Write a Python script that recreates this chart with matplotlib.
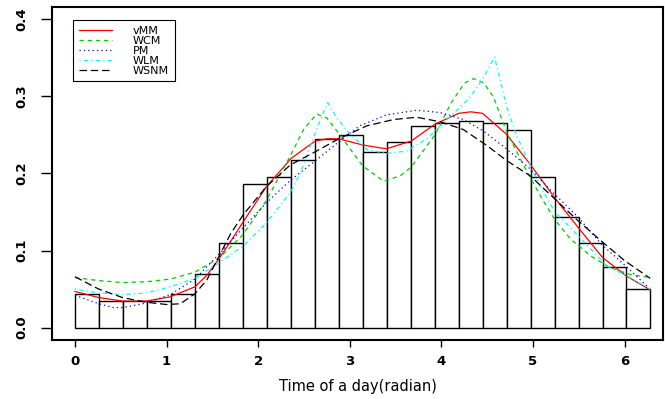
import numpy as np
import matplotlib
matplotlib.use("Agg")
import matplotlib.pyplot as plt

# Histogram densities (24 bins over 0..2*pi)
hist_density = [0.044, 0.0345, 0.034, 0.034, 0.044, 0.069, 0.110, 0.187, 0.196, 0.218,
                0.2445, 0.250, 0.228, 0.241, 0.261, 0.266, 0.268, 0.265, 0.256, 0.196,
                0.143, 0.1095, 0.079, 0.050]

# Fitted densities
vmm_x = [0, 0.26, 0.52, 0.78, 1.04, 1.31, 1.44, 1.57, 1.70, 1.83, 2.09, 2.36, 2.62, 2.75,
         2.88, 3.14, 3.40, 3.67, 3.93, 4.19, 4.32, 4.45, 4.71, 4.97, 5.24, 5.50, 5.76, 6.02, 6.28]
vmm_y = [0.047, 0.039, 0.0345, 0.0345, 0.040, 0.053, 0.068, 0.089, 0.112, 0.136, 0.183, 0.2195,
         0.242, 0.245, 0.245, 0.237, 0.232, 0.242, 0.264, 0.278, 0.280, 0.278, 0.251, 0.212,
         0.168, 0.129, 0.091, 0.067, 0.049]

wcm_x = [0, 0.26, 0.52, 0.78, 1.04, 1.31, 1.57, 1.83, 2.09, 2.36, 2.50, 2.64, 2.75, 2.88,
         3.14, 3.37, 3.55, 3.67, 3.93, 4.10, 4.25, 4.35, 4.46, 4.57, 4.71, 4.90, 5.10, 5.24,
         5.41, 5.63, 5.84, 6.06, 6.28]
wcm_y = [0.065, 0.061, 0.0585, 0.0595, 0.063, 0.072, 0.090, 0.120, 0.165, 0.225, 0.258, 0.277,
         0.272, 0.252, 0.210, 0.190, 0.197, 0.208, 0.250, 0.290, 0.317, 0.323, 0.318, 0.299,
         0.255, 0.210, 0.167, 0.140, 0.115, 0.093, 0.078, 0.069, 0.065]

pm_x = [0, 0.26, 0.42, 0.52, 0.78, 1.04, 1.31, 1.57, 1.84, 2.09, 2.35, 2.62, 2.89, 3.11,
        3.40, 3.73, 3.99, 4.24, 4.46, 4.71, 4.97, 5.22, 5.48, 5.75, 6.03, 6.28]
pm_y = [0.042, 0.031, 0.026, 0.026, 0.032, 0.043, 0.063, 0.095, 0.130, 0.162, 0.191, 0.216,
        0.242, 0.262, 0.276, 0.282, 0.279, 0.270, 0.255, 0.232, 0.206, 0.175, 0.145, 0.108,
        0.078, 0.050]

wlm_x = [0, 0.26, 0.52, 0.78, 1.04, 1.31, 1.57, 1.84, 2.09, 2.35, 2.46, 2.57, 2.68, 2.76,
         2.86, 3.00, 3.19, 3.40, 3.62, 3.84, 3.99, 4.17, 4.30, 4.45, 4.58, 4.64, 4.71, 4.81,
         4.92, 5.02, 5.12, 5.24, 5.44, 5.63, 5.81, 6.03, 6.28]
wlm_y = [0.050, 0.045, 0.043, 0.045, 0.053, 0.064, 0.084, 0.106, 0.136, 0.175, 0.200, 0.236,
         0.270, 0.292, 0.272, 0.251, 0.231, 0.226, 0.229, 0.245, 0.262, 0.282, 0.297, 0.322,
         0.351, 0.323, 0.288, 0.253, 0.223, 0.198, 0.175, 0.150, 0.126, 0.102, 0.080, 0.067, 0.050]

wsnm_x = [0, 0.26, 0.52, 0.78, 1.00, 1.15, 1.31, 1.44, 1.57, 1.70, 1.84, 2.09, 2.35, 2.62,
          2.88, 3.19, 3.48, 3.73, 3.99, 4.24, 4.50, 4.71, 4.97, 5.22, 5.48, 5.75, 6.00, 6.28]
wsnm_y = [0.066, 0.050, 0.039, 0.033, 0.030, 0.031, 0.044, 0.062, 0.092, 0.122, 0.147, 0.183,
          0.211, 0.228, 0.245, 0.262, 0.270, 0.273, 0.267, 0.257, 0.236, 0.217, 0.197, 0.169,
          0.140, 0.112, 0.087, 0.064]

x_ticks = [0, 1, 2, 3, 4, 5, 6]
y_ticks = [0.0, 0.1, 0.2, 0.3, 0.4]

fig = plt.figure(figsize=(6.65, 3.99), dpi=100)
ax = fig.add_axes([0.0782, 0.1479, 0.9188, 0.8346])

edges = np.linspace(0, 2 * np.pi, len(hist_density) + 1)
ax.bar(edges[:-1], hist_density, width=np.diff(edges), align="edge",
       facecolor="white", edgecolor="black", linewidth=1.0)

ax.plot(vmm_x, vmm_y, color="red", lw=0.9, ls="-", label="vMM")
ax.plot(wcm_x, wcm_y, color="#00CD00", lw=0.9, ls=(0, (3.5, 3)), label="WCM")
ax.plot(pm_x, pm_y, color="blue", lw=0.9, ls=(0, (1, 2.5)), label="PM")
ax.plot(wlm_x, wlm_y, color="cyan", lw=0.9, ls=(0, (1, 2.5, 3.5, 2.5)), label="WLM")
ax.plot(wsnm_x, wsnm_y, color="black", lw=0.9, ls=(0, (6, 3)), label="WSNM")

ax.set_xlim(-0.251, 6.42)
ax.set_ylim(-0.016, 0.416)
ax.set_xticks(x_ticks)
ax.set_xticklabels([str(t) for t in x_ticks], fontweight="bold", fontsize=9.5)
ax.set_yticks(y_ticks)
ax.set_yticklabels(["%.1f" % t for t in y_ticks], fontweight="bold", fontsize=9.5,
                   rotation=90, va="center")
ax.tick_params(axis="y", length=8, width=1, pad=9)
ax.tick_params(axis="x", length=5, width=1, pad=6)
for s in ax.spines.values():
    s.set_linewidth(1.5)

ax.set_xlabel("Time of a day(radian)", fontsize=10.5, labelpad=8)

leg = ax.legend(loc="upper left", bbox_to_anchor=(0.0344, 0.961), borderaxespad=0,
                fontsize=8, handlelength=3.0, handletextpad=1.9, labelspacing=0.0,
                borderpad=0.5, fancybox=False, framealpha=1, edgecolor="black")
leg.get_frame().set_linewidth(0.8)

fig.savefig("out.png", dpi=100)
